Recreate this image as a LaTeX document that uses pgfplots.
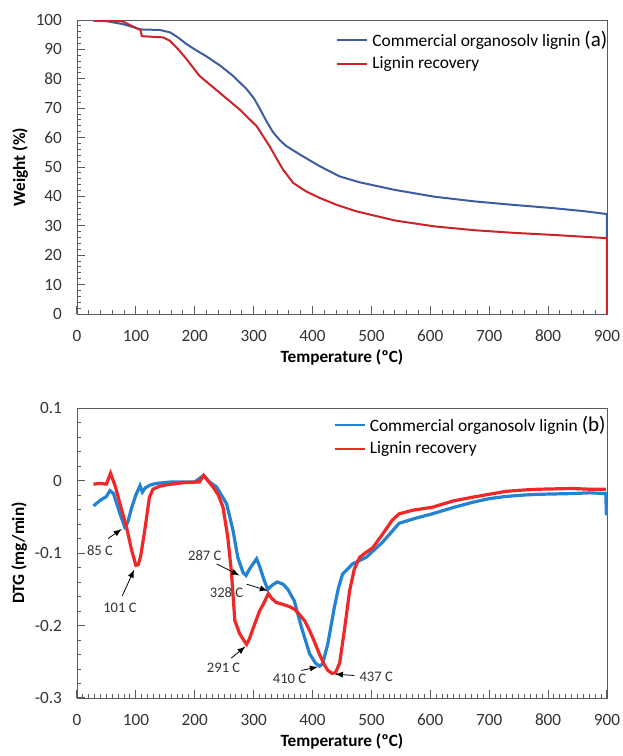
\documentclass[border=0pt]{standalone}
\usepackage{fontspec}
\setmainfont{Carlito}
\usepackage{pgfplots}
\pgfplotsset{compat=1.18}
\definecolor{tgablue}{RGB}{62,92,160}
\definecolor{tgared}{RGB}{205,35,40}
\definecolor{dtgblue}{RGB}{35,130,210}
\definecolor{dtgred}{RGB}{240,40,40}
\definecolor{framegray}{RGB}{90,90,90}

\begin{document}
\begin{tikzpicture}
\pgfplotsset{
  panel/.style={
    scale only axis,
    width=265pt,
    xmin=0, xmax=900,
    xtick={0,100,...,900},
    xticklabels={0,100,200,300,400,500,600,700,800,900},
    tick pos=left,
    tick align=inside,
    major tick length=4pt,
    minor tick length=2.2pt,
    axis line style={framegray},
    tick style={framegray, line width=0.5pt},
    xticklabel style={font=\fontsize{8.6}{9}\selectfont, text=black!80, yshift=-4.5pt},
    yticklabel style={font=\fontsize{8.6}{9}\selectfont, text=black!80, xshift=-4pt},
    xlabel={Temperature (ºC)},
    xlabel style={font=\bfseries\fontsize{8.6}{10}\selectfont},
    xlabel shift=-3pt,
    ylabel shift=-3pt,
    ylabel style={font=\bfseries\fontsize{8.6}{10}\selectfont},
    legend cell align=left,
    legend style={draw=none, fill=none, font=\fontsize{8.7}{10}\selectfont,
      anchor=north west, row sep=-0.5pt, inner sep=1pt},
    legend image code/.code={\draw[#1, line width=1pt] (0pt,0pt) -- (15pt,0pt);},
  }
}
\path[use as bounding box] (-38.5pt,10pt) rectangle (272.5pt,-368pt);

% (a) TGA
\begin{axis}[
  panel,
  at={(0,0)}, anchor=north west,
  height=147pt,
  ymin=0, ymax=100,
  ytick={0,10,...,100},
  yticklabels={0,10,20,30,40,50,60,70,80,90,100},
  minor x tick num=4,
  minor y tick num=4,
  ylabel={Weight (\%)},
  legend style={at={(rel axis cs:0.485,0.985)}},
]
\addplot[tgablue, line width=1pt] coordinates {
  (28,99.8) (50,99.6) (78,98.6) (95,97.6) (107,96.8) (141,96.6) (158,95.8)
  (172,94.0) (186,91.8) (200,90.0) (220,87.6) (243,84.5) (265,81.0) (288,76.5)
  (300,73.5) (310,70.0) (322,65.5) (333,61.8) (345,59.0) (355,57.2) (378,54.3)
  (412,50.3) (446,46.8) (480,44.8) (540,42.2) (607,39.9) (675,38.3) (742,37.1)
  (809,36.0) (860,35.0) (900,34.0) (900,25.5)
};
\addlegendentry{Commercial organosolv lignin {\fontsize{10.5}{10}\selectfont(a)}}
\addplot[tgared, line width=1pt] coordinates {
  (28,99.8) (50,99.8) (78,99.5) (95,97.8) (108,96.6) (110,94.5) (146,94.1)
  (158,92.9) (172,90.0) (186,86.7) (208,81.0) (242,75.3) (276,69.6) (305,63.9)
  (327,57.1) (340,52.5) (350,49.1) (367,44.6) (389,41.7) (412,39.5) (440,37.2)
  (473,35.0) (540,31.8) (607,29.8) (675,28.5) (742,27.6) (809,26.9) (850,26.4)
  (900,25.8) (900,0)
};
\addlegendentry{Lignin recovery}
\end{axis}

% (b) DTG
\begin{axis}[
  panel,
  at={(0,-194pt)}, anchor=north west,
  height=145pt,
  ymin=-0.3, ymax=0.1,
  ytick={-0.3,-0.2,-0.1,0,0.1},
  yticklabels={-0.3,-0.2,-0.1,0,0.1},
  minor x tick num=9,
  minor y tick num=4,
  ylabel={DTG (mg/min)},
  legend style={at={(rel axis cs:0.48,0.995)}},
  clip=false,
]
\addplot[dtgblue, line width=1.6pt] coordinates {
  (28,-0.035) (40,-0.027) (50,-0.022) (56,-0.014) (62,-0.018) (73,-0.046)
  (81,-0.064) (86,-0.058) (93,-0.037) (100,-0.020) (107,-0.007) (111,-0.016)
  (116,-0.010) (125,-0.006) (135,-0.004) (160,-0.002) (200,-0.002) (215,0.007)
  (225,-0.002) (237,-0.009) (254,-0.032) (265,-0.069) (273,-0.106) (282,-0.127)
  (287,-0.131) (293,-0.122) (299,-0.115) (305,-0.108) (310,-0.118) (318,-0.138)
  (324,-0.150) (332,-0.144) (340,-0.140) (350,-0.143) (358,-0.150) (369,-0.166)
  (381,-0.202) (395,-0.239) (405,-0.252) (412,-0.256) (417,-0.253) (426,-0.225)
  (437,-0.175) (444,-0.148) (451,-0.129) (468,-0.115) (491,-0.106) (519,-0.085)
  (547,-0.059) (575,-0.052) (603,-0.046) (640,-0.037) (672,-0.030) (700,-0.025)
  (728,-0.022) (760,-0.020) (785,-0.019) (841,-0.018) (870,-0.017) (898,-0.018)
  (899,-0.048)
};
\addlegendentry{Commercial organosolv lignin {\fontsize{10.5}{10}\selectfont(b)}}
\addplot[dtgred, line width=1.6pt] coordinates {
  (28,-0.005) (40,-0.004) (50,-0.005) (57,0.010) (65,-0.008) (73,-0.032)
  (84,-0.064) (93,-0.097) (100,-0.117) (104,-0.116) (108,-0.105) (115,-0.069)
  (123,-0.023) (129,-0.012) (140,-0.008) (152,-0.006) (180,-0.003) (208,-0.002)
  (215,0.007) (222,0.000) (231,-0.009) (240,-0.020) (248,-0.037) (256,-0.078)
  (262,-0.124) (268,-0.193) (276,-0.211) (283,-0.220) (288,-0.226) (293,-0.218)
  (299,-0.204) (310,-0.180) (318,-0.168) (325,-0.156) (330,-0.162) (338,-0.168)
  (350,-0.171) (361,-0.174) (370,-0.178) (378,-0.185) (387,-0.194) (395,-0.207)
  (403,-0.222) (412,-0.240) (420,-0.254) (426,-0.262) (433,-0.266) (439,-0.265)
  (446,-0.252) (454,-0.207) (463,-0.152) (471,-0.122) (480,-0.106) (491,-0.099)
  (502,-0.093) (519,-0.074) (535,-0.055) (547,-0.046) (570,-0.041) (603,-0.037)
  (615,-0.034) (640,-0.028) (672,-0.023) (700,-0.019) (728,-0.015) (760,-0.013)
  (785,-0.012) (841,-0.011) (870,-0.012) (898,-0.012)
};
\addlegendentry{Lignin recovery}
% peak annotations
\begin{scope}[every node/.style={font=\fontsize{7.3}{8}\selectfont, text=black!80}]
  \node at (axis cs:39,-0.096) {85 C};
  \draw[-latex, thin] (axis cs:53,-0.080) -- (axis cs:76,-0.067);
  \node at (axis cs:73,-0.175) {101 C};
  \draw[-latex, thin] (axis cs:77,-0.159) -- (axis cs:97,-0.123);
  \node at (axis cs:217,-0.103) {287 C};
  \draw[-latex, thin] (axis cs:237,-0.115) -- (axis cs:276,-0.131);
  \node at (axis cs:254,-0.155) {328 C};
  \draw[-latex, thin] (axis cs:288,-0.143) -- (axis cs:324,-0.152);
  \node at (axis cs:249,-0.258) {291 C};
  \draw[-latex, thin] (axis cs:262,-0.245) -- (axis cs:286,-0.229);
  \node at (axis cs:361,-0.274) {410 C};
  \draw[-latex, thin] (axis cs:381,-0.262) -- (axis cs:409,-0.257);
  \node at (axis cs:508,-0.271) {437 C};
  \draw[-latex, thin] (axis cs:471,-0.269) -- (axis cs:438,-0.267);
\end{scope}
\end{axis}
\end{tikzpicture}
\end{document}
